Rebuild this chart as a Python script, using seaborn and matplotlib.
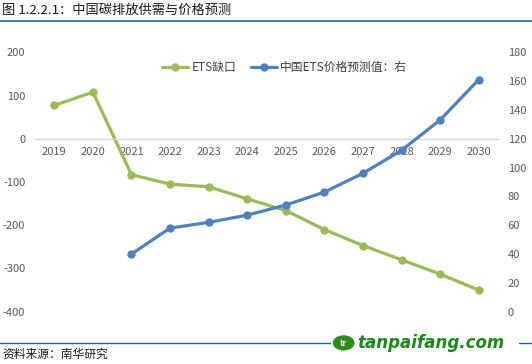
import matplotlib
matplotlib.use("Agg")
import matplotlib.pyplot as plt
import seaborn as sns
import numpy as np
import pandas as pd
from matplotlib.lines import Line2D
from matplotlib.patches import Circle

sns.set_style("white")
plt.rcParams["font.family"] = ["Noto Sans CJK SC", "DejaVu Sans"]
plt.rcParams["axes.unicode_minus"] = False

# data
years = [2019, 2020, 2021, 2022, 2023, 2024, 2025, 2026, 2027, 2028, 2029, 2030]
ets_gap = [77, 108, -83, -105, -111, -139, -166, -210, -247, -280, -313, -350]
price_years = [2021, 2022, 2023, 2024, 2025, 2026, 2027, 2028, 2029, 2030]
price = [40, 58, 62, 67, 74, 83, 96, 112, 133, 161]
left_ticks = [200, 100, 0, -100, -200, -300, -400]
right_ticks = [0, 20, 40, 60, 80, 100, 120, 140, 160, 180]

green = "#9BBB59"
blue = "#4F81BD"
tick_col = "#595959"

df_gap = pd.DataFrame({"pos": range(len(years)), "v": ets_gap})
df_price = pd.DataFrame({"pos": [years.index(y) for y in price_years], "v": price})

fig = plt.figure(figsize=(5.32, 3.64), dpi=100, facecolor="white")
ax = fig.add_axes([0.0658, 0.1437, 0.8702, 0.7126])
ax2 = ax.twinx()

sns.lineplot(data=df_gap, x="pos", y="v", ax=ax, color=green, lw=2.3,
             marker="o", markersize=6, markeredgewidth=0)
sns.lineplot(data=df_price, x="pos", y="v", ax=ax2, color=blue, lw=2.3,
             marker="o", markersize=6, markeredgewidth=0)

ax.set_xlim(-0.5, len(years) - 0.5)
ax.set_ylim(-400, 200)
ax2.set_ylim(0, 180)
ax.set_yticks(left_ticks)
ax2.set_yticks(right_ticks)
ax.set_xticks(range(len(years)))
ax.set_xticklabels([str(y) for y in years])
ax.set_xlabel("")
ax.set_ylabel("")
ax2.set_ylabel("")

for a in (ax, ax2):
    for s in a.spines.values():
        s.set_visible(False)
ax.spines["bottom"].set_visible(True)
ax.spines["bottom"].set_position(("data", 0))
ax.spines["bottom"].set_color("#D9D9D9")
ax.spines["bottom"].set_linewidth(1)

ax.tick_params(axis="x", length=0, pad=6, labelsize=8, labelcolor=tick_col)
ax.tick_params(axis="y", length=0, pad=7, labelsize=8, labelcolor=tick_col)
ax2.tick_params(axis="y", length=0, pad=7, labelsize=8, labelcolor=tick_col)
ax.grid(False)
ax2.grid(False)

handles = [
    Line2D([], [], color=green, lw=2.3, marker="o", markersize=6, markeredgewidth=0),
    Line2D([], [], color=blue, lw=2.3, marker="o", markersize=6, markeredgewidth=0),
]
fig.legend(handles, ["ETS缺口", "中国ETS价格预测值：右"], loc="center",
           bbox_to_anchor=(0.535, 0.815), ncol=2, frameon=False, fontsize=8.5,
           handlelength=2.2, handletextpad=0.3, columnspacing=1.2,
           labelcolor="#404040")

# title and header rule
fig.text(0.004, 0.972, "图 1.2.2.1：中国碳排放供需与价格预测", fontsize=9.5,
         va="center", ha="left", color="#1a1a1a")
fig.add_artist(Line2D([0, 1], [0.942, 0.942], color="#1F5FA8", lw=1.2,
                      transform=fig.transFigure))

# footer
fig.add_artist(Line2D([0, 0.62], [0.058, 0.058], color="#1F5FA8", lw=1.0,
                      transform=fig.transFigure))
fig.add_artist(Line2D([0.975, 1], [0.058, 0.058], color="#1F5FA8", lw=1.0,
                      transform=fig.transFigure))
fig.text(0.004, 0.027, "资料来源：南华研究", fontsize=8.5, va="center",
         ha="left", color="#1a1a1a")
fig.add_artist(Circle((0.646, 0.058), 0.019, transform=fig.transFigure,
                      color="#2E8B1E"))
fig.text(0.646, 0.056, "tr", fontsize=6, color="white", fontweight="bold",
         ha="center", va="center", style="italic")
fig.text(0.672, 0.058, "tanpaifang.com", fontsize=12, color="#1A8A1A",
         fontweight="bold", style="italic", ha="left", va="center",
         family="DejaVu Sans")

fig.savefig("out.png", dpi=100, facecolor="white")
